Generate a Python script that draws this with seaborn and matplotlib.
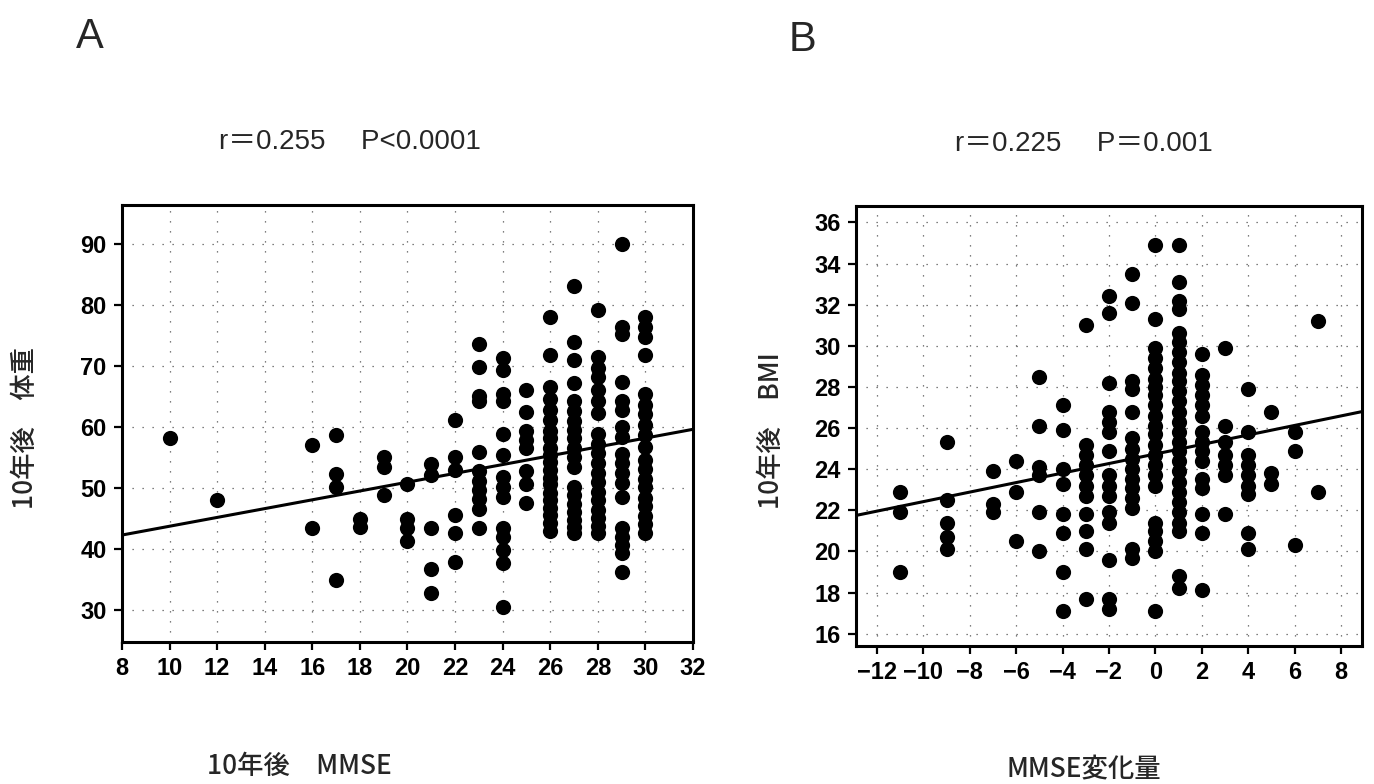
import numpy as np
import pandas as pd
import matplotlib
matplotlib.use("Agg")
import matplotlib.pyplot as plt
import seaborn as sns

# ---------------- Panel A data: 10-year MMSE vs body weight ----------------
a_mmse_levels = [10, 12, 16, 17, 18, 19, 20, 21, 22, 23, 24, 25, 26, 27, 28, 29, 30]
a_w10 = [58.2]
a_w12 = [48.1]
a_w16 = [57.0, 43.4]
a_w17 = [58.6, 52.3, 50.1, 35.0]
a_w18 = [45.0, 43.6]
a_w19 = [55.1, 53.4, 48.9]
a_w20 = [50.7, 44.9, 43.4, 41.4]
a_w21 = [54.0, 52.1, 43.4, 36.8, 32.8]
a_w22 = [61.2, 55.1, 53.0, 45.6, 42.6, 37.9]
a_w23 = [73.5, 69.8, 65.0, 64.3, 55.9, 52.8, 51.2, 49.7, 48.2, 46.6, 43.4]
a_w24 = [71.2, 69.3, 65.4, 64.3, 58.9, 55.4, 51.8, 50.2, 48.6, 43.4, 42.0, 39.8, 37.7, 30.6]
a_w25 = [66.0, 62.4, 59.4, 57.8, 56.5, 52.7, 50.7, 47.5]
a_w26 = [77.9, 71.7, 66.5, 64.6, 62.7, 61.1, 59.4, 58.1, 56.6, 55.4, 54.2, 52.9, 51.7, 50.6,
         49.2, 48.1, 46.7, 45.6, 44.2, 42.9]
a_w27 = [83.0, 73.9, 70.9, 67.1, 64.2, 62.6, 61.0, 59.5, 58.1, 56.6, 55.1, 53.5, 50.2, 48.8,
         47.4, 46.1, 44.7, 43.6, 42.6]
a_w28 = [79.1, 71.5, 69.7, 68.1, 66.0, 64.3, 62.2, 58.9, 57.2, 55.7, 54.1, 52.4, 51.0, 49.4,
         48.1, 46.4, 45.1, 43.8, 42.6]
a_w29 = [90.0, 76.3, 75.2, 67.3, 64.3, 62.7, 60.0, 58.4, 55.6, 54.1, 52.4, 50.8, 48.6, 43.4,
         42.0, 40.6, 39.3, 36.3]
a_w30 = [78.0, 76.3, 74.7, 71.7, 65.4, 63.6, 62.1, 60.3, 58.6, 56.7, 54.5, 53.1, 51.4, 50.1,
         48.4, 47.1, 45.4, 44.1, 42.6]
a_weight_cols = [a_w10, a_w12, a_w16, a_w17, a_w18, a_w19, a_w20, a_w21, a_w22, a_w23,
                 a_w24, a_w25, a_w26, a_w27, a_w28, a_w29, a_w30]
a_fit_x = [8, 32]
a_fit_y = [42.3, 59.6]
a_stats = "r\uff1d0.255\u3000 P<0.0001"

# ---------------- Panel B data: MMSE change vs BMI ----------------
b_change_levels = [-11, -9, -7, -6, -5, -4, -3, -2, -1, 0, 1, 2, 3, 4, 5, 6, 7]
b_m11 = [22.9, 21.9, 19.0]
b_m9 = [25.3, 22.5, 21.4, 20.7, 20.1]
b_m7 = [23.9, 22.3, 21.9]
b_m6 = [24.4, 22.9, 20.5]
b_m5 = [28.5, 26.1, 24.1, 23.7, 21.9, 20.0]
b_m4 = [27.1, 25.9, 24.0, 23.3, 21.8, 20.9, 19.0, 17.1]
b_m3 = [31.0, 25.2, 24.7, 24.2, 23.7, 23.2, 22.7, 21.8, 21.0, 20.1, 17.7]
b_m2 = [32.4, 31.6, 28.2, 26.8, 26.3, 25.8, 24.9, 23.7, 23.2, 22.7, 21.9, 21.4, 19.6, 17.7, 17.2]
b_m1 = [33.5, 32.1, 28.3, 27.9, 26.8, 25.5, 25.0, 24.5, 24.0, 23.5, 23.1, 22.6, 22.1, 20.1, 19.7]
b_p0 = [34.9, 31.3, 29.9, 29.4, 28.9, 28.4, 28.0, 27.6, 27.1, 26.6, 26.1, 25.7, 25.2, 24.7,
        24.2, 23.7, 23.2, 21.4, 21.0, 20.5, 20.0, 17.1]
b_p1 = [34.9, 33.1, 32.2, 31.8, 30.6, 30.2, 29.7, 29.2, 28.7, 28.3, 27.8, 27.3, 26.8, 26.3,
        25.8, 25.3, 24.9, 24.4, 23.9, 23.4, 22.9, 22.4, 21.9, 21.4, 21.0, 18.8, 18.2]
b_p2 = [29.6, 28.6, 28.1, 27.6, 27.1, 26.6, 25.8, 25.3, 24.9, 24.4, 23.5, 23.1, 21.8, 20.9, 18.1]
b_p3 = [29.9, 26.1, 25.3, 24.7, 24.2, 23.7, 21.8]
b_p4 = [27.9, 25.8, 24.7, 24.2, 23.7, 23.2, 22.8, 20.9, 20.1]
b_p5 = [26.8, 23.8, 23.3]
b_p6 = [25.8, 24.9, 20.3]
b_p7 = [31.2, 22.9]
b_bmi_cols = [b_m11, b_m9, b_m7, b_m6, b_m5, b_m4, b_m3, b_m2, b_m1, b_p0, b_p1, b_p2,
              b_p3, b_p4, b_p5, b_p6, b_p7]
b_fit_x = [-12.9, 8.9]
b_fit_y = [21.75, 26.8]
b_stats = "r\uff1d0.225\u3000 P\uff1d0.001"

# ---------------- build tables ----------------
df_a = pd.DataFrame({
    "mmse": np.concatenate([[lv] * len(c) for lv, c in zip(a_mmse_levels, a_weight_cols)]),
    "weight": np.concatenate(a_weight_cols),
})
df_b = pd.DataFrame({
    "change": np.concatenate([[lv] * len(c) for lv, c in zip(b_change_levels, b_bmi_cols)]),
    "bmi": np.concatenate(b_bmi_cols),
})
fit_a = pd.DataFrame({"x": a_fit_x, "y": a_fit_y})
fit_b = pd.DataFrame({"x": b_fit_x, "y": b_fit_y})

sns.set_theme(style="white")
latin = ["Liberation Sans Narrow", "Liberation Sans", "Noto Sans CJK JP", "DejaVu Sans"]
cjk = ["Noto Sans CJK JP", "DejaVu Sans"]
plt.rcParams["font.family"] = latin
plt.rcParams["axes.unicode_minus"] = False

fig = plt.figure(figsize=(13.74, 7.84), dpi=100)
W, H = 1374, 784


def add_ax(l, r, t, b):
    return fig.add_axes([l / W, 1 - b / H, (r - l) / W, (b - t) / H])


axA = add_ax(122, 693, 205, 642)
axB = add_ax(856, 1362, 206, 646)

grid_kw = dict(color="#555555", linestyle=(0, (1, 7)), linewidth=0.9)


def style(ax):
    ax.grid(True, **grid_kw)
    ax.set_axisbelow(True)
    for s in ax.spines.values():
        s.set_visible(True)
        s.set_color("black")
        s.set_linewidth(2.2)
    ax.tick_params(axis="both", which="major", direction="out", length=6, width=1.6,
                   color="black", labelsize=17, labelcolor="black", pad=5,
                   bottom=True, left=True)
    for lab in ax.get_xticklabels() + ax.get_yticklabels():
        lab.set_fontweight("bold")


# Panel A
sns.scatterplot(data=df_a, x="mmse", y="weight", ax=axA, s=120, color="black",
                edgecolor="black", linewidth=0, legend=False, zorder=3)
sns.lineplot(data=fit_a, x="x", y="y", ax=axA, color="black", linewidth=2.2, zorder=4)
axA.set_xlim(8, 32)
axA.set_ylim(24.8, 96.3)
axA.set_xticks(np.arange(8, 33, 2))
axA.set_yticks(np.arange(30, 91, 10))
style(axA)
axA.set_xlabel("10年後\u3000MMSE", fontsize=19, family=cjk, fontweight="medium")
axA.set_ylabel("10年後\u3000体重", fontsize=19, family=cjk, fontweight="medium")
axA.xaxis.set_label_coords(0.31, -0.255)
axA.yaxis.set_label_coords(-0.145, 0.49)
axA.text(0.40, 1.145, a_stats, transform=axA.transAxes, ha="center", va="center",
         fontsize=20, family=latin)

# Panel B
sns.scatterplot(data=df_b, x="change", y="bmi", ax=axB, s=120, color="black",
                edgecolor="black", linewidth=0, legend=False, zorder=3)
sns.lineplot(data=fit_b, x="x", y="y", ax=axB, color="black", linewidth=2.2, zorder=4)
axB.set_xlim(-12.9, 8.9)
axB.set_ylim(15.4, 36.8)
axB.set_xticks(np.arange(-12, 9, 2))
axB.set_xticklabels([("\u2212" if v < 0 else "") + str(abs(v)) for v in range(-12, 9, 2)])
axB.set_yticks(np.arange(16, 37, 2))
style(axB)
axB.set_xlabel("MMSE変化量", fontsize=19, family=cjk, fontweight="medium")
axB.set_ylabel("10年後\u3000BMI", fontsize=19, family=cjk, fontweight="medium")
axB.xaxis.set_label_coords(0.45, -0.25)
axB.yaxis.set_label_coords(-0.14, 0.49)
axB.text(0.45, 1.14, b_stats, transform=axB.transAxes, ha="center", va="center",
         fontsize=20, family=latin)

fig.text(90 / W, 1 - 37 / H, "A", fontsize=30, ha="center", va="center",
         family=["Liberation Sans", "DejaVu Sans"])
fig.text(802 / W, 1 - 40 / H, "B", fontsize=30, ha="center", va="center",
         family=["Liberation Sans", "DejaVu Sans"])

fig.savefig("out.png", dpi=100, facecolor="white")
